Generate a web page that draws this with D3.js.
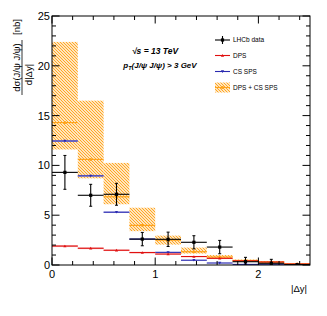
<!DOCTYPE html>
<html><head><meta charset="utf-8">
<script src="https://cdn.jsdelivr.net/npm/d3@7"></script>
<style>body{margin:0;background:#fff}svg{display:block}text{font-family:"Liberation Sans",Arial,sans-serif}</style>
</head><body><svg id="c" width="327" height="316"></svg>
<script>
const binEdges = [0,0.25,0.5,0.75,1.0,1.25,1.5,1.75,2.0,2.25,2.5];
const dataVal = [9.3,7.0,7.1,2.6,2.58,2.28,1.8,0.33,0.17,0.03];
const dataErr = [1.7,1.1,1.1,0.67,0.72,0.66,0.67,0.44,0.4,0.05];
const dpsVal = [1.9,1.68,1.48,1.25,1.1,0.85,0.67,0.42,0.3,0.1];
const dpsErr = [0.1,0.09,0.08,0.08,0.07,0.06,0.05,0.04,0.03,0.02];
const spsVal = [12.45,8.95,5.3,2.6,1.27,0.48,0.2,0.06,0.03,0.01];
const spsErr = [0.1,0.1,0.08,0.06,0.05,0.04,0.03,0.02,0.01,0.01];
const sumVal = [14.3,10.6,6.85,3.98,2.5,1.33,0.8,0.45,0.3,0.11];
const sumHi = [22.4,16.5,10.25,5.75,2.95,1.75,1.0,0.55,0.4,0.15];
const sumLo = [11.6,8.7,6.1,3.4,2.05,1.15,0.6,0.35,0.22,0.07];
const yTicks = [0,5,10,15,20,25];
const xTicks = [0,1,2];
const legendItems = ["LHCb data","DPS","CS SPS","DPS + CS SPS"];

const svg = d3.select("#c");
const L=52,R=310,T=16,B=265;
const x = d3.scaleLinear().domain([0,2.5]).range([L,R]);
const y = d3.scaleLinear().domain([0,25]).range([B,T]);
const ORANGE="#ffa31a", RED="#e01010", BLUE="#2a2ab0";

const defs = svg.append("defs");
const pat = defs.append("pattern").attr("id","hatch").attr("patternUnits","userSpaceOnUse")
  .attr("width",3).attr("height",3);
pat.append("path").attr("d","M-1,-1 L4,4 M-1,2 L1,4 M2,-1 L4,1").attr("stroke",ORANGE).attr("stroke-width",1.1);
const clip = defs.append("clipPath").attr("id","pc");
clip.append("rect").attr("x",L).attr("y",T).attr("width",R-L).attr("height",B-T);

const bins = d3.range(10).map(i=>({i,x0:binEdges[i],x1:binEdges[i+1],xc:(binEdges[i]+binEdges[i+1])/2}));
const g = svg.append("g").attr("clip-path","url(#pc)");

g.selectAll(".hb").data(bins).join("rect")
  .attr("x",d=>x(d.x0)).attr("width",d=>x(d.x1)-x(d.x0))
  .attr("y",d=>y(sumHi[d.i])).attr("height",d=>y(sumLo[d.i])-y(sumHi[d.i]))
  .attr("fill","url(#hatch)");

g.selectAll(".rb").data(bins).join("rect")
  .attr("x",d=>x(d.x0)).attr("width",d=>x(d.x1)-x(d.x0))
  .attr("y",d=>y(dpsVal[d.i]+dpsErr[d.i])).attr("height",d=>y(dpsVal[d.i]-dpsErr[d.i])-y(dpsVal[d.i]+dpsErr[d.i]))
  .attr("fill","#f4a0a0").attr("opacity",0.7);
g.selectAll(".bb").data(bins).join("rect")
  .attr("x",d=>x(d.x0)).attr("width",d=>x(d.x1)-x(d.x0))
  .attr("y",d=>y(spsVal[d.i]+spsErr[d.i])).attr("height",d=>y(spsVal[d.i]-spsErr[d.i])-y(spsVal[d.i]+spsErr[d.i]))
  .attr("fill","#a0a0e8").attr("opacity",0.7);

function hlines(vals,color,w){
  g.append("g").selectAll("line").data(bins).join("line")
   .attr("x1",d=>x(d.x0)).attr("x2",d=>x(d.x1))
   .attr("y1",d=>y(vals[d.i])).attr("y2",d=>y(vals[d.i]))
   .attr("stroke",color).attr("stroke-width",w);
}
hlines(sumVal,ORANGE,1.2);
g.append("g").selectAll("circle").data(bins).join("circle")
  .attr("cx",d=>x(d.xc)).attr("cy",d=>y(sumVal[d.i])).attr("r",1.5).attr("fill",ORANGE);
hlines(spsVal,BLUE,1.1);
g.append("g").selectAll("path").data(bins).join("path")
  .attr("transform",d=>`translate(${x(d.xc)},${y(spsVal[d.i])})`)
  .attr("d","M-1.6,-1.2 L1.6,-1.2 L0,1.4Z").attr("fill",BLUE);
hlines(dpsVal,RED,1.1);
g.append("g").selectAll("path").data(bins).join("path")
  .attr("transform",d=>`translate(${x(d.xc)},${y(dpsVal[d.i])})`)
  .attr("d","M-1.6,1.2 L1.6,1.2 L0,-1.4Z").attr("fill",RED);

const dg = g.append("g");
dg.selectAll(".xe").data(bins).join("line")
  .attr("x1",d=>x(d.x0)).attr("x2",d=>x(d.x1))
  .attr("y1",d=>y(dataVal[d.i])).attr("y2",d=>y(dataVal[d.i]))
  .attr("stroke","#000").attr("stroke-width",1.1);
dg.selectAll(".ye").data(bins).join("line")
  .attr("x1",d=>x(d.xc)).attr("x2",d=>x(d.xc))
  .attr("y1",d=>y(dataVal[d.i]+dataErr[d.i])).attr("y2",d=>y(Math.max(0,dataVal[d.i]-dataErr[d.i])))
  .attr("stroke","#000").attr("stroke-width",1.1);
[1,-1].forEach(s=>{
  dg.append("g").selectAll("line").data(bins.filter(d=>dataErr[d.i]>0.2)).join("line")
   .attr("x1",d=>x(d.xc)-1.5).attr("x2",d=>x(d.xc)+1.5)
   .attr("y1",d=>y(Math.max(0,dataVal[d.i]+s*dataErr[d.i]))).attr("y2",d=>y(Math.max(0,dataVal[d.i]+s*dataErr[d.i])))
   .attr("stroke","#000").attr("stroke-width",1);
});
dg.selectAll("rect").data(bins).join("rect")
  .attr("x",d=>x(d.xc)-1.6).attr("y",d=>y(dataVal[d.i])-1.6).attr("width",3.2).attr("height",3.2).attr("fill","#000");

const ax = svg.append("g").attr("stroke","#000").attr("stroke-width",1);
ax.append("rect").attr("x",L).attr("y",T).attr("width",R-L).attr("height",B-T).attr("fill","none");
d3.range(0,25.01,1).forEach(v=>{
  const len = v%5===0?7.5:4;
  ax.append("line").attr("x1",L).attr("x2",L+len).attr("y1",y(v)).attr("y2",y(v));
  ax.append("line").attr("x1",R).attr("x2",R-len).attr("y1",y(v)).attr("y2",y(v));
});
d3.range(0,2.501,0.2).forEach(v=>{
  const len = Math.abs(v-Math.round(v))<1e-6?7.5:4;
  ax.append("line").attr("x1",x(v)).attr("x2",x(v)).attr("y1",B).attr("y2",B-len);
  ax.append("line").attr("x1",x(v)).attr("x2",x(v)).attr("y1",T).attr("y2",T+len);
});
svg.append("g").selectAll("text").data(yTicks).join("text")
  .attr("x",L-2).attr("y",d=>y(d)+4).attr("text-anchor","end").attr("font-size",11).text(d=>d);
svg.append("g").selectAll("text").data(xTicks).join("text")
  .attr("x",d=>x(d)).attr("y",B+13).attr("text-anchor","middle").attr("font-size",11).text(d=>d);

svg.append("text").attr("x",307).attr("y",292).attr("text-anchor","end").attr("font-size",9.5).text("|Δy|");
const yl = svg.append("g");
yl.append("text").attr("transform","translate(19.5,67.5) rotate(-90)").attr("text-anchor","middle").attr("font-size",9.5).text("dσ(J/ψ J/ψ)");
yl.append("line").attr("x1",22).attr("x2",22).attr("y1",40).attr("y2",95).attr("stroke","#000").attr("stroke-width",0.8);
yl.append("text").attr("transform","translate(31.5,74.5) rotate(-90)").attr("text-anchor","middle").attr("font-size",9.5).text("d|Δy|");
yl.append("text").attr("transform","translate(19.5,27) rotate(-90)").attr("text-anchor","middle").attr("font-size",9.5).text("[nb]");

svg.append("text").attr("x",155).attr("y",54).attr("text-anchor","middle").attr("font-size",8.5)
  .attr("font-weight","bold").attr("font-style","italic").text("√s = 13 TeV");
const t2 = svg.append("text").attr("x",160).attr("y",68).attr("text-anchor","middle").attr("font-size",8)
  .attr("font-weight","bold").attr("font-style","italic");
t2.append("tspan").text("p");
t2.append("tspan").attr("font-size",5.5).attr("dy",2).text("T");
t2.append("tspan").attr("dy",-2).text("(J/ψ J/ψ) > 3 GeV");

const lg = svg.append("g");
const ly = [40,55.5,71.5,87.5];
const lx0=215, lx1=230, lxc=222.5;
lg.selectAll("text").data(legendItems).join("text")
  .attr("x",233).attr("y",(d,i)=>ly[i]+2.3).attr("font-size",6.5).text(d=>d);
lg.append("line").attr("x1",lx0).attr("x2",lx1).attr("y1",ly[0]).attr("y2",ly[0]).attr("stroke","#000").attr("stroke-width",1.1);
lg.append("line").attr("x1",lxc).attr("x2",lxc).attr("y1",ly[0]-4).attr("y2",ly[0]+4).attr("stroke","#000").attr("stroke-width",1.1);
lg.append("rect").attr("x",lxc-1.6).attr("y",ly[0]-1.6).attr("width",3.2).attr("height",3.2).attr("fill","#000");
lg.append("line").attr("x1",lx0).attr("x2",lx1).attr("y1",ly[1]).attr("y2",ly[1]).attr("stroke",RED).attr("stroke-width",1.1);
lg.append("path").attr("transform",`translate(${lxc},${ly[1]})`).attr("d","M-1.6,1.2 L1.6,1.2 L0,-1.4Z").attr("fill",RED);
lg.append("line").attr("x1",lx0).attr("x2",lx1).attr("y1",ly[2]).attr("y2",ly[2]).attr("stroke",BLUE).attr("stroke-width",1.1);
lg.append("path").attr("transform",`translate(${lxc},${ly[2]})`).attr("d","M-1.6,-1.2 L1.6,-1.2 L0,1.4Z").attr("fill",BLUE);
lg.append("rect").attr("x",lx0).attr("y",ly[3]-5).attr("width",lx1-lx0).attr("height",10).attr("fill","url(#hatch)");
lg.append("line").attr("x1",lx0).attr("x2",lx1).attr("y1",ly[3]).attr("y2",ly[3]).attr("stroke",ORANGE).attr("stroke-width",1.1);
lg.append("circle").attr("cx",lxc).attr("cy",ly[3]).attr("r",1.6).attr("fill",ORANGE);
</script></body></html>
